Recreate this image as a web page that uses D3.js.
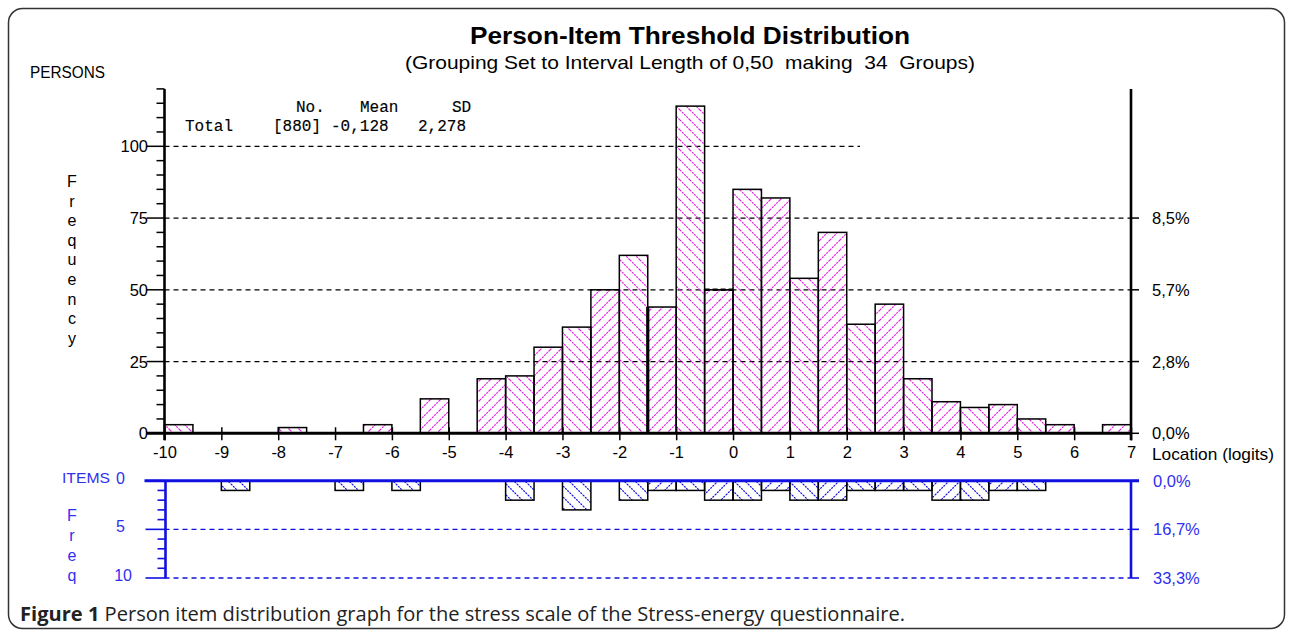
<!DOCTYPE html>
<html>
<head>
<meta charset="utf-8">
<script src="https://cdn.jsdelivr.net/npm/d3@7"></script>
<style>
  html, body { margin: 0; padding: 0; background: #fff; }
  svg { display: block; }
</style>
</head>
<body>
<svg id="chart" width="1292" height="634"></svg>
<script>
// ---------------- DATA ----------------
// bin lower edges (interval length 0.5 logits, 34 groups from -10 to 7)
const binStarts = [-10,-9.5,-9,-8.5,-8,-7.5,-7,-6.5,-6,-5.5,-5,-4.5,-4,-3.5,-3,-2.5,-2,-1.5,-1,-0.5,0,0.5,1,1.5,2,2.5,3,3.5,4,4.5,5,5.5,6,6.5];
const personFreq = [3,0,0,0,2,0,0,3,0,12,0,19,20,30,37,50,62,44,114,50,85,82,54,70,38,45,19,11,9,10,5,3,0,3];
const itemFreq   = [0,0,1,0,0,0,1,0,1,0,0,0,2,0,3,0,2,1,1,2,2,1,2,2,1,1,1,2,2,1,1,0,0,0];
const binWidth = 0.5;
const xTicks = [-10,-9,-8,-7,-6,-5,-4,-3,-2,-1,0,1,2,3,4,5,6,7];
const personTicks = [0,25,50,75,100];
const personPctLabels = ["0,0%","2,8%","5,7%","8,5%"];
const itemTicks = [0,5,10];
const itemPctLabels = ["0,0%","16,7%","33,3%"];
const statsHeader = ["No.","Mean","SD"];
const statsRow = ["Total","[880]","-0,128","2,278"];
const titleText = "Person-Item Threshold Distribution";
const subtitleText = "(Grouping Set to Interval Length of 0,50  making  34  Groups)";
const captionBold = "Figure 1";
const captionText = " Person item distribution graph for the stress scale of the Stress-energy questionnaire.";

// ---------------- SETUP ----------------
const svg = d3.select("#chart");
const narrow = "'Liberation Sans Narrow','Arial Narrow','Liberation Sans',Arial,sans-serif";
const sans = "'Liberation Sans',Arial,sans-serif";
const mono = "'Liberation Mono','Courier New',monospace";
const BLUE = "#1010e0";
const BLUE_TXT = "#3030ee";
const MAGENTA = "#dd22dd";

const x = d3.scaleLinear().domain([-10, 7]).range([164.5, 1131]);
const yP = d3.scaleLinear().domain([0, 120]).range([433.3, 88.9]);
const yI = d3.scaleLinear().domain([0, 10]).range([480.7, 578]);

// patterns
const defs = svg.append("defs");
function hatch(id, color, s, dir) {
  const p = defs.append("pattern").attr("id", id).attr("patternUnits", "userSpaceOnUse")
    .attr("width", s).attr("height", s);
  const d = dir === "back"
    ? `M${-s/2},${s/2} L${s/2},${s*1.5} M0,0 L${s},${s} M${s/2},${-s/2} L${s*1.5},${s/2}`
    : `M${-s/2},${s/2} L${s/2},${-s/2} M0,${s} L${s},0 M${s/2},${s*1.5} L${s*1.5},${s/2}`;
  p.append("path").attr("d", d).attr("stroke", color).attr("stroke-width", 1.2)
    .attr("stroke-dasharray", "2,1").attr("fill", "none");
}
hatch("pBack", MAGENTA, 10, "back");
hatch("pFwd", MAGENTA, 10, "fwd");
hatch("iBack", BLUE, 11, "back");
hatch("iFwd", BLUE, 11, "fwd");

// border
svg.append("rect").attr("x", 8.5).attr("y", 8.5).attr("width", 1276).attr("height", 620)
  .attr("rx", 14).attr("fill", "none").attr("stroke", "#333").attr("stroke-width", 1.5);

// titles
svg.append("text").attr("x", 690).attr("y", 44).attr("text-anchor", "middle")
  .attr("font-family", sans).attr("font-weight", "bold").attr("font-size", 24)
  .attr("textLength", 440).attr("lengthAdjust", "spacingAndGlyphs").text(titleText);
svg.append("text").attr("x", 690).attr("y", 69).attr("text-anchor", "middle")
  .attr("font-family", narrow).attr("font-size", 18.5).style("white-space", "pre")
  .attr("textLength", 570).attr("lengthAdjust", "spacingAndGlyphs").text(subtitleText);
svg.append("text").attr("x", 30).attr("y", 78).attr("font-family", narrow).attr("font-size", 16)
  .attr("textLength", 75).attr("lengthAdjust", "spacingAndGlyphs").text("PERSONS");

// stats block
const hdrX = [296, 360, 452];
statsHeader.forEach((t, i) => svg.append("text").attr("x", hdrX[i]).attr("y", 112)
  .attr("font-family", mono).attr("font-size", 16).attr("stroke", "#000").attr("stroke-width", 0.15).text(t));
const rowX = [185, 273, 331, 418];
statsRow.forEach((t, i) => svg.append("text").attr("x", rowX[i]).attr("y", 131)
  .attr("font-family", mono).attr("font-size", 16).attr("stroke", "#000").attr("stroke-width", 0.15).text(t));

// ---------- PERSONS PANEL ----------
const gP = svg.append("g");
// dashed gridlines
personTicks.filter(v => v > 0).forEach(v => {
  gP.append("line").attr("x1", x(-10)).attr("x2", v === 100 ? 860 : x(7))
    .attr("y1", yP(v)).attr("y2", yP(v)).attr("stroke", "#000").attr("stroke-width", 1.2)
    .attr("stroke-dasharray", "5,4");
});
// bars
const pBars = binStarts.map((s, i) => ({ s, v: personFreq[i], i })).filter(d => d.v > 0);
gP.selectAll("rect.pb").data(pBars).join("rect").attr("class", "pb")
  .attr("x", d => x(d.s)).attr("width", d => x(d.s + binWidth) - x(d.s))
  .attr("y", d => yP(d.v)).attr("height", d => yP(0) - yP(d.v))
  .attr("fill", d => d.i % 2 === 0 ? "url(#pBack)" : "url(#pFwd)")
  .attr("stroke", "#000").attr("stroke-width", 1.5);
// thick marker at -1.5 edge
gP.append("line").attr("x1", x(-1.5)).attr("x2", x(-1.5))
  .attr("y1", yP(0)).attr("y2", yP(personFreq[binStarts.indexOf(-1.5)]))
  .attr("stroke", "#000").attr("stroke-width", 3.2);
gP.append("line").attr("x1", x(-0.5)).attr("x2", x(0))
  .attr("y1", yP(50)).attr("y2", yP(50)).attr("stroke", "#000").attr("stroke-width", 2.6)
  .attr("stroke-dasharray", "5,3");

// left axis
gP.append("line").attr("x1", x(-10)).attr("x2", x(-10)).attr("y1", yP(120)).attr("y2", yP(0) + 7)
  .attr("stroke", "#000").attr("stroke-width", 2.6);
d3.range(0, 121, 5).forEach(v => {
  const major = v % 25 === 0;
  gP.append("line").attr("x1", x(-10) - (major ? 18 : 8)).attr("x2", x(-10))
    .attr("y1", yP(v)).attr("y2", yP(v)).attr("stroke", "#000").attr("stroke-width", 1.5);
});
personTicks.forEach(v => gP.append("text").attr("x", 148).attr("y", yP(v) + 6)
  .attr("text-anchor", "end").attr("font-family", narrow).attr("font-size", 16.5).text(v));
// right axis
gP.append("line").attr("x1", x(7)).attr("x2", x(7)).attr("y1", yP(120)).attr("y2", yP(0) + 7)
  .attr("stroke", "#000").attr("stroke-width", 2.6);
personTicks.slice(0, 4).forEach((v, i) => {
  gP.append("line").attr("x1", x(7)).attr("x2", x(7) + 8).attr("y1", yP(v)).attr("y2", yP(v))
    .attr("stroke", "#000").attr("stroke-width", 1.5);
  gP.append("text").attr("x", 1152).attr("y", yP(v) + 6).attr("font-family", narrow)
    .attr("font-size", 16.5).text(personPctLabels[i]);
});
// baseline + x axis
gP.append("line").attr("x1", x(-10) - 18).attr("x2", x(7)).attr("y1", yP(0)).attr("y2", yP(0))
  .attr("stroke", "#000").attr("stroke-width", 3);
const xAxis = d3.axisBottom(x).tickValues(xTicks).tickSize(7).tickPadding(6).tickFormat(d3.format("d"));
const gx = gP.append("g").attr("transform", `translate(0,${yP(0)})`).call(xAxis);
gx.select(".domain").remove();
gx.selectAll(".tick line").attr("stroke", "#000").attr("stroke-width", 1.5).attr("y1", -6);
gx.selectAll(".tick text").attr("font-family", narrow).attr("font-size", 16.5).attr("fill", "#000")
  .text(d => d < 0 ? "-" + Math.abs(d) : d);
gP.append("text").attr("x", 1152).attr("y", 460).attr("font-family", narrow).attr("font-size", 17)
  .attr("textLength", 122).attr("lengthAdjust", "spacingAndGlyphs").text("Location (logits)");
// vertical "Frequency"
"Frequency".split("").forEach((c, i) => gP.append("text").attr("x", 72).attr("y", 187 + i * 19.6)
  .attr("text-anchor", "middle").attr("font-family", sans).attr("font-size", 16).text(c));

// ---------- ITEMS PANEL ----------
const gI = svg.append("g");
[5, 10].forEach(v => gI.append("line").attr("x1", x(-10)).attr("x2", x(7)).attr("y1", yI(v)).attr("y2", yI(v))
  .attr("stroke", BLUE).attr("stroke-width", 1.3).attr("stroke-dasharray", "5,4"));
const iBars = binStarts.map((s, i) => ({ s, v: itemFreq[i], i })).filter(d => d.v > 0);
gI.selectAll("rect.ib").data(iBars).join("rect").attr("class", "ib")
  .attr("x", d => x(d.s)).attr("width", d => x(d.s + binWidth) - x(d.s))
  .attr("y", yI(0)).attr("height", d => yI(d.v) - yI(0))
  .attr("fill", d => d.i % 2 === 0 ? "url(#iBack)" : "url(#iFwd)")
  .attr("stroke", "#000").attr("stroke-width", 1.5);
// top line
gI.append("line").attr("x1", x(-10) - 20).attr("x2", x(7) + 8).attr("y1", yI(0)).attr("y2", yI(0))
  .attr("stroke", BLUE).attr("stroke-width", 3);
// left axis
gI.append("line").attr("x1", x(-10) + 1).attr("x2", x(-10) + 1).attr("y1", yI(0)).attr("y2", yI(10))
  .attr("stroke", BLUE).attr("stroke-width", 2.6);
d3.range(0, 11).forEach(v => {
  const major = v % 5 === 0;
  gI.append("line").attr("x1", x(-10) + 1 - (major ? 20 : 8)).attr("x2", x(-10) + 1)
    .attr("y1", yI(v)).attr("y2", yI(v)).attr("stroke", BLUE).attr("stroke-width", 1.6);
});
itemTicks.forEach(v => gI.append("text").attr("x", v === 10 ? 132 : 125).attr("y", yI(v) + 3)
  .attr("text-anchor", "end").attr("font-family", narrow).attr("font-size", 16)
  .attr("fill", BLUE_TXT).text(v));
// right axis
gI.append("line").attr("x1", x(7)).attr("x2", x(7)).attr("y1", yI(0)).attr("y2", yI(10))
  .attr("stroke", BLUE).attr("stroke-width", 2.6);
itemTicks.forEach((v, i) => {
  gI.append("line").attr("x1", x(7)).attr("x2", x(7) + 8).attr("y1", yI(v)).attr("y2", yI(v))
    .attr("stroke", BLUE).attr("stroke-width", 1.6);
  gI.append("text").attr("x", 1153).attr("y", yI(v) + 6).attr("font-family", narrow)
    .attr("font-size", 16.5).attr("fill", BLUE_TXT).text(itemPctLabels[i]);
});
gI.append("text").attr("x", 62).attr("y", 483).attr("font-family", narrow).attr("font-size", 15)
  .attr("fill", BLUE_TXT).attr("textLength", 48).attr("lengthAdjust", "spacingAndGlyphs").text("ITEMS");
"Freq".split("").forEach((c, i) => gI.append("text").attr("x", 72).attr("y", 521 + i * 20)
  .attr("text-anchor", "middle").attr("font-family", sans).attr("font-size", 16)
  .attr("fill", BLUE_TXT).text(c));

// caption
const cap = svg.append("text").attr("x", 20).attr("y", 621).attr("font-family", "'Open Sans','Noto Sans',sans-serif")
  .attr("font-size", 19.5).attr("fill", "#222")
  .attr("textLength", 885).attr("lengthAdjust", "spacingAndGlyphs");
cap.append("tspan").attr("font-weight", "bold").text(captionBold);
cap.append("tspan").text(captionText);
</script>
</body>
</html>
